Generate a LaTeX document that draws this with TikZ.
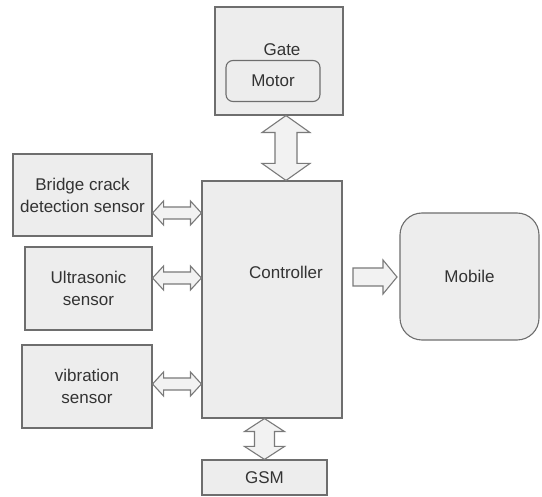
\documentclass[tikz,border=0pt]{standalone}
\usepackage{fontspec}
\setmainfont{Liberation Sans}
\usetikzlibrary{calc}
\definecolor{boxfill}{HTML}{EDEDED}
\definecolor{boxline}{HTML}{6E6E6E}
\definecolor{arrline}{HTML}{7A7A7A}
\definecolor{arrfill}{HTML}{F2F2F2}
\definecolor{txt}{HTML}{333333}
\tikzset{
  box/.style={draw=boxline, fill=boxfill, line width=1.1pt, inner sep=0pt,
    text=txt, align=center, font=\fontsize{17}{22}\selectfont},
  lbl/.style={text=txt, inner sep=0pt, font=\fontsize{17}{22}\selectfont, align=center},
  blk/.style={draw=arrline, fill=arrfill, line width=1.1pt, line join=miter}
}
% horizontal double arrow: #1 start, #2 end (same y), #3 head half, #4 shaft half, #5 head length
\newcommand\hdarrow[5]{\draw[blk] let \p1=#1, \p2=#2 in
  (\x1,\y1) -- (\x1+#5,\y1+#3) -- (\x1+#5,\y1+#4) -- (\x2-#5,\y1+#4) -- (\x2-#5,\y1+#3)
  -- (\x2,\y1) -- (\x2-#5,\y1-#3) -- (\x2-#5,\y1-#4) -- (\x1+#5,\y1-#4) -- (\x1+#5,\y1-#3) -- cycle;}
% vertical double arrow: #1 top, #2 bottom (same x)
\newcommand\vdarrow[5]{\draw[blk] let \p1=#1, \p2=#2 in
  (\x1,\y1) -- (\x1+#3,\y1-#5) -- (\x1+#4,\y1-#5) -- (\x1+#4,\y2+#5) -- (\x1+#3,\y2+#5)
  -- (\x1,\y2) -- (\x1-#3,\y2+#5) -- (\x1-#4,\y2+#5) -- (\x1-#4,\y1-#5) -- (\x1-#3,\y1-#5) -- cycle;}
% horizontal single arrow
\newcommand\hsarrow[5]{\draw[blk] let \p1=#1, \p2=#2 in
  (\x1,\y1+#4) -- (\x2-#5,\y1+#4) -- (\x2-#5,\y1+#3) -- (\x2,\y1) -- (\x2-#5,\y1-#3)
  -- (\x2-#5,\y1-#4) -- (\x1,\y1-#4) -- cycle;}
\begin{document}
\begin{tikzpicture}[x=1pt,y=-1pt]
\useasboundingbox (0,0) rectangle (542,497);
\fill[white] (0,0) rectangle (542,497);

\node[box, minimum width=128pt, minimum height=108pt] (gate) at (279,61) {};
\node[lbl] (gatetxt) at (282,50) {Gate};
\node[box, rounded corners=7pt, minimum width=94pt, minimum height=41pt] (motor) at (273,81) {Motor};

\node[box, minimum width=140pt, minimum height=237pt] (ctrl) at (272,299.5) {};
\node[lbl] (ctrltxt) at (286,272) {Controller};

\node[box, minimum width=139pt, minimum height=82pt] (bridge) at (82.5,195) {Bridge crack\\detection sensor};
\node[box, minimum width=127pt, minimum height=83pt] (ultra) at (88.5,288.5) {Ultrasonic\\sensor};
\node[box, minimum width=130pt, minimum height=83pt] (vib) at (87,386.5) {vibration\\sensor};

\node[box, rounded corners=22pt, minimum width=139pt, minimum height=127pt] (mobile) at (469.5,276.5) {Mobile};
\node[box, minimum width=125pt, minimum height=35pt] (gsm) at (264.5,477.5) {GSM};

% arrows
\coordinate (a1) at (0,213);
\coordinate (a2) at (0,278);
\coordinate (a3) at (0,384);
\hdarrow{(bridge.east |- a1)}{(ctrl.west |- a1)}{12pt}{6pt}{11pt}
\hdarrow{(ultra.east |- a2)}{(ctrl.west |- a2)}{12pt}{6pt}{11pt}
\hdarrow{(vib.east |- a3)}{(ctrl.west |- a3)}{12pt}{6pt}{11pt}

\coordinate (gx) at (286,0);
\vdarrow{(gate.south -| gx)}{(ctrl.north -| gx)}{24pt}{11pt}{17pt}

\vdarrow{(ctrl.south -| gsm.north)}{(gsm.north)}{20pt}{10pt}{13pt}

\coordinate (m1) at (353,277);
\coordinate (m2) at (397,277);
\hsarrow{(m1)}{(m2)}{17pt}{9pt}{14pt}
\end{tikzpicture}
\end{document}
